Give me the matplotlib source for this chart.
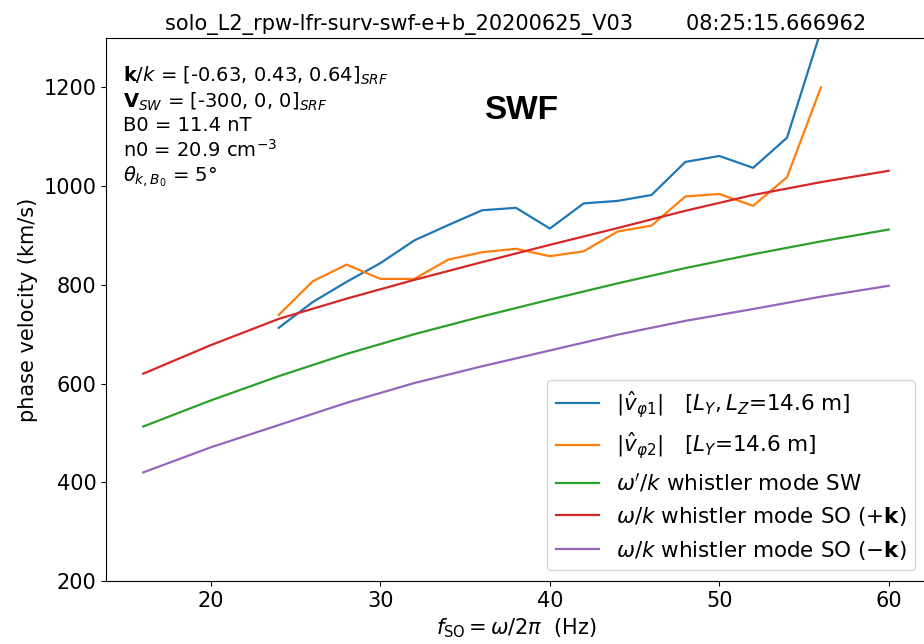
import numpy as np
import matplotlib
matplotlib.use('Agg')
import matplotlib.pyplot as plt

# measured phase velocities (km/s) from the two interferometric estimates
f_meas = [24, 26, 28, 30, 32, 34, 36, 38, 40, 42, 44, 46, 48, 50, 52, 54, 56]
v_phi1 = [713, 765, 806, 844, 890, 921, 951, 956, 914, 965, 970, 982, 1049, 1061, 1037, 1098, 1315]
v_phi2 = [739, 807, 841, 812, 812, 851, 866, 873, 858, 868, 908, 920, 979, 984, 960, 1018, 1200]

# whistler dispersion curves (km/s)
f_model = [16, 20, 24, 28, 32, 36, 40, 44, 48, 52, 56, 60]
v_sw = [513, 566, 615, 660, 700, 736, 770, 803, 834, 862, 888, 912]
v_so_plus = [620, 678, 731, 772, 810, 846, 881, 915, 950, 982, 1008, 1031]
v_so_minus = [420, 471, 516, 561, 601, 635, 667, 699, 727, 751, 776, 798]

title = 'solo_L2_rpw-lfr-surv-swf-e+b_20200625_V03        08:25:15.666962'
info = '\n'.join([
    r'$\mathbf{k}/k$ = [-0.63, 0.43, 0.64]$_{SRF}$',
    r'$\mathbf{V}_{SW}$ = [-300, 0, 0]$_{SRF}$',
    'B0 = 11.4 nT',
    r'n0 = 20.9 cm$^{-3}$',
    r'$\theta_{k,B_0}$ = 5°',
])

plt.rcParams['font.size'] = 15

fig = plt.figure(figsize=(9.24, 6.44), dpi=100)
ax = fig.add_axes([0.1147, 0.0978, 0.8874, 0.8432])

ax.plot(f_meas, v_phi1, color='tab:blue', lw=1.6,
        label=r'$|\hat{v}_{\varphi1}|$   [$L_Y, L_Z$=14.6 m]')
ax.plot(f_meas, v_phi2, color='tab:orange', lw=1.6,
        label=r'$|\hat{v}_{\varphi2}|$   [$L_Y$=14.6 m]')
ax.plot(f_model, v_sw, color='tab:green', lw=1.6,
        label=r"$\omega'/k$ whistler mode SW")
ax.plot(f_model, v_so_plus, color='tab:red', lw=1.6,
        label=r'$\omega/k$ whistler mode SO (+$\mathbf{k}$)')
ax.plot(f_model, v_so_minus, color='tab:purple', lw=1.6,
        label=r'$\omega/k$ whistler mode SO ($-\mathbf{k}$)')

ax.set_xlim(13.8, 62.2)
ax.set_ylim(200, 1300)
ax.set_xticks([20, 30, 40, 50, 60])
ax.set_yticks([200, 400, 600, 800, 1000, 1200])
ax.tick_params(labelsize=15)

ax.set_xlabel(r'$f_{\rm SO} = \omega/2\pi$  (Hz)', fontsize=15)
ax.set_ylabel('phase velocity (km/s)', fontsize=15)
ax.set_title(title, fontsize=15)

ax.text(0.021, 0.95, info, transform=ax.transAxes, va='top', ha='left', fontsize=14)
ax.text(0.506, 0.867, 'SWF', transform=ax.transAxes, ha='center', va='center',
        fontsize=24, fontweight='bold', family='Liberation Sans')

ax.legend(loc='lower right', fontsize=15.5)

fig.savefig('out.png', dpi=100)
